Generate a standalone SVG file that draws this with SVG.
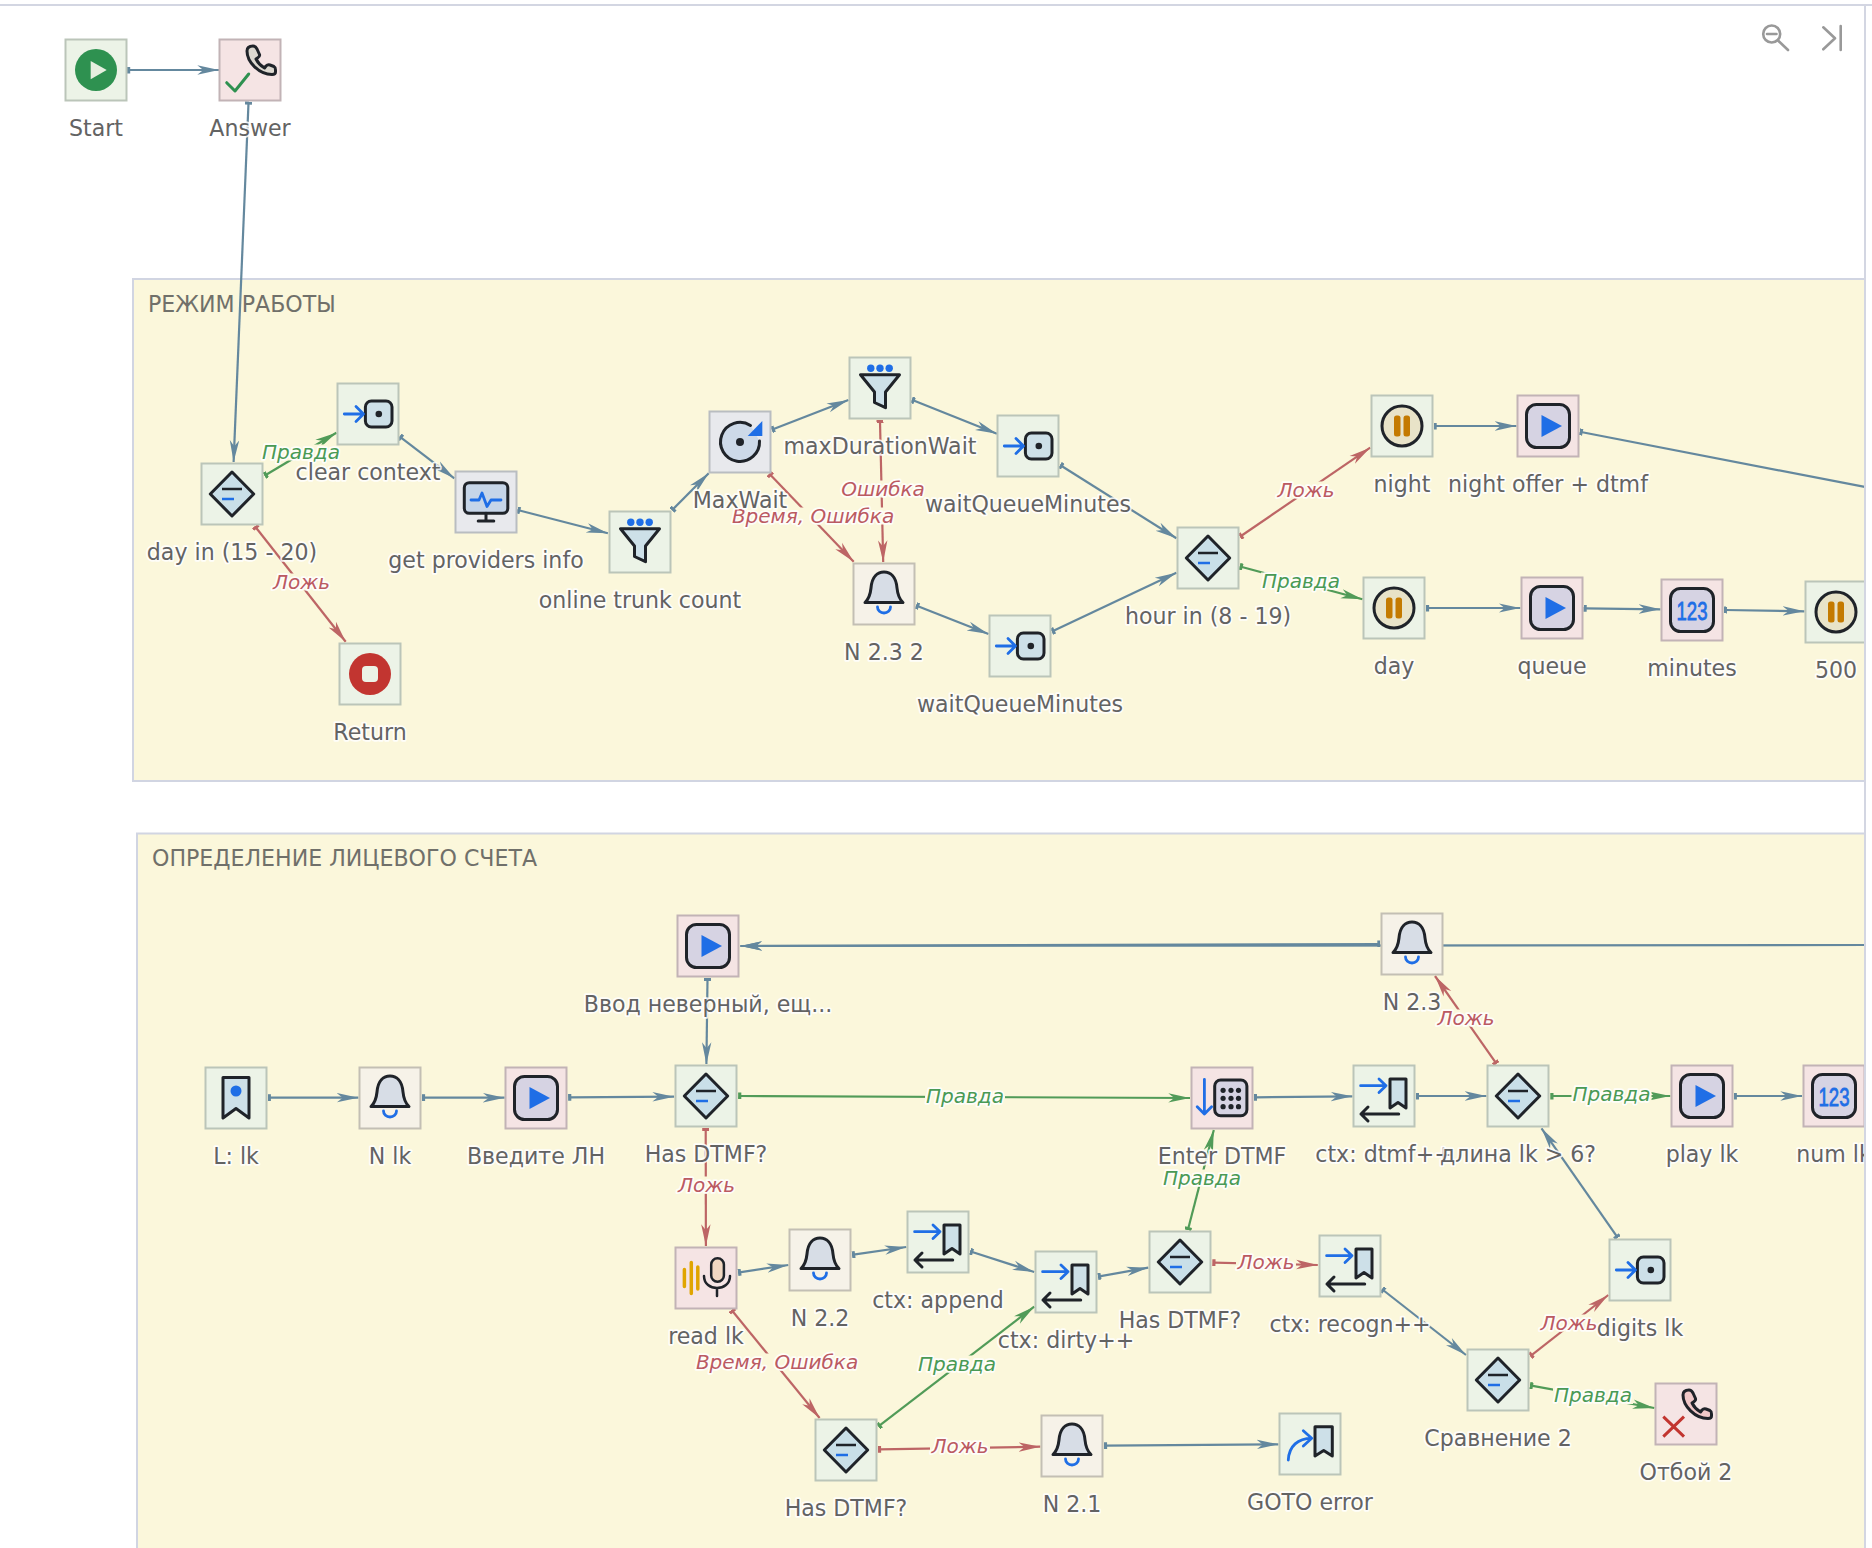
<svg xmlns="http://www.w3.org/2000/svg" width="1872" height="1548" viewBox="0 0 1872 1548">
<style>
text{font-family:"DejaVu Sans","Liberation Sans",sans-serif}
.box{stroke-width:2}
.g{fill:#ecf3e7;stroke:#bbc5b9}
.p{fill:#f5e4e4;stroke:#c2b3b6}
.s{fill:#e8e9ed;stroke:#b9bdc1}
.b{fill:#f6f2e8;stroke:#c3bfb4}
.nl{font-size:22.1px;fill:#636363;text-anchor:middle;paint-order:stroke;stroke:#fff;stroke-opacity:.85;stroke-width:3.5px;stroke-linejoin:round}
.el{font-size:20px;font-style:italic;text-anchor:middle;paint-order:stroke;stroke:#fff;stroke-opacity:.85;stroke-width:3.5px;stroke-linejoin:round}
.et{fill:#4a9a55}.ef{fill:#bb5a62}
.lb{fill:#fbf7db}
.grp{fill:#fbf7db;stroke:#d1d5e2;stroke-width:2}
.gt{font-size:22.1px;fill:#70706a}
.c path,.c line{fill:none;stroke-width:2.200}
.cb{stroke:#64889e;marker-start:url(#sb);marker-end:url(#ab)}
.cg{stroke:#519b58;marker-start:url(#sg);marker-end:url(#ag)}
.cr{stroke:#bd6565;marker-start:url(#sr);marker-end:url(#ar)}
.k{stroke:#1f2329;stroke-width:3;stroke-linejoin:round;stroke-linecap:round}
.bl{stroke:#1f6ee6;stroke-width:2.800;fill:none;stroke-linecap:round;stroke-linejoin:round}
.ui{stroke:#999;stroke-width:2.600;fill:none;stroke-linecap:round;stroke-linejoin:round}
.num{font-size:25px;fill:#1f6ee6;stroke:#1f6ee6;stroke-width:.8px;text-anchor:middle;font-family:"Liberation Sans",sans-serif}
</style>
<defs>
<marker id="ab" markerUnits="userSpaceOnUse" markerWidth="24" markerHeight="12" refX="21.7" refY="6" orient="auto"><path d="M0,1.300L21.700,6L0,10.700L6,6Z" fill="#64889e"/></marker>
<marker id="ag" markerUnits="userSpaceOnUse" markerWidth="24" markerHeight="12" refX="21.7" refY="6" orient="auto"><path d="M0,1.300L21.700,6L0,10.700L6,6Z" fill="#519b58"/></marker>
<marker id="ar" markerUnits="userSpaceOnUse" markerWidth="24" markerHeight="12" refX="21.7" refY="6" orient="auto"><path d="M0,1.300L21.700,6L0,10.700L6,6Z" fill="#bd6565"/></marker>
<marker id="sb" markerUnits="userSpaceOnUse" markerWidth="4" markerHeight="7" refX="1.5" refY="3.5" orient="auto"><rect width="3.200" height="7" fill="#64889e"/></marker>
<marker id="sg" markerUnits="userSpaceOnUse" markerWidth="4" markerHeight="7" refX="1.5" refY="3.5" orient="auto"><rect width="3.200" height="7" fill="#519b58"/></marker>
<marker id="sr" markerUnits="userSpaceOnUse" markerWidth="4" markerHeight="7" refX="1.5" refY="3.5" orient="auto"><rect width="3.200" height="7" fill="#bd6565"/></marker>
<g id="i-start"><circle r="21" fill="#2e9150"/><path d="M-5.300,-9L10.700,0L-5.300,9.300Z" fill="#e6efdf"/></g>
<g id="i-stop"><circle r="21" fill="#c23530"/><rect x="-8" y="-8" width="16" height="16" rx="4" fill="#ecf3e7"/></g>
<path id="i-phonepath" d="M-3,-19C-3,-23 0,-24 3,-24C5,-24 6,-23 7,-21L9.500,-15.500C10,-14 9,-13 7.500,-12L6,-11C8,-7 11,-4 14.500,-2L16,-4C17,-5 18,-5.500 20,-5L24,-3.500C25,-3 25.500,-2 25.500,0V2C25.500,3.500 24,4.500 22,4.500C9,4.500 -3,-8 -3,-19Z"/>
<g id="i-cond"><path class="k" d="M0,-22L21.700,0L0,22L-21.700,0Z" fill="#c9dfe8"/><path d="M-10,-5H10" stroke="#1f2329" stroke-width="2.500"/><path d="M-10,5H2" stroke="#1f6ee6" stroke-width="2.500"/></g>
<g id="i-enter"><rect class="k" x="-2.600" y="-13" width="26.600" height="26" rx="6" fill="#cde0e8"/><circle cx="10.800" r="3.300" fill="#1f2329"/><path class="bl" d="M-23.700,0H-5M-12,-7.500L-4.500,0L-12,7.500"/></g>
<g id="i-filter"><circle cx="-9.200" cy="-19.700" r="3.700" fill="#1f6ee6"/><circle cy="-19.700" r="3.700" fill="#1f6ee6"/><circle cx="9.200" cy="-19.700" r="3.700" fill="#1f6ee6"/><path class="k" d="M-19.500,-13.300H19.500L5.500,4V19.700L-5.500,14.500V4Z" fill="#cde0e8"/></g>
<g id="i-mon"><rect class="k" x="-21.700" y="-19.300" width="43.500" height="30.600" rx="5" fill="#c6d5e8"/><path class="k" d="M0,11.300V19M-7.800,19H7.800" fill="none"/><path class="bl" d="M-15,-2H-7L-4,-9L1,4.500L5,-2H15"/></g>
<g id="i-wait"><path class="k" d="M10.500,-16.500A19.500,19.500 0 1 0 19.500,-1" fill="#cdd9e8"/><circle r="4" fill="#1f2329"/><path d="M22.300,-21V-6H7.700Z" fill="#1f6ee6"/></g>
<g id="i-bell"><path class="k" d="M-19,8.500Q-14,4 -13,-6C-12,-18 -6,-22 0,-22C6,-22 12,-18 13,-6Q14,4 19,8.500Z" fill="#d7dde6"/><path class="bl" d="M-6.500,13A6.500,6 0 0 0 6.500,13"/></g>
<g id="i-pause"><circle class="k" r="20" fill="#e8e3c8"/><rect x="-8" y="-10.500" width="6.500" height="21" rx="2.500" fill="#c47a00"/><rect x="1.500" y="-10.500" width="6.500" height="21" rx="2.500" fill="#c47a00"/></g>
<g id="i-play"><rect class="k" x="-21.500" y="-21.500" width="43" height="43" rx="10" fill="#d6d3e3"/><path d="M-6.500,-11L14,0L-6.500,11Z" fill="#1f6ee6"/></g>
<g id="i-num"><rect class="k" x="-21.500" y="-21.500" width="43" height="43" rx="10" fill="#d6d3e3"/></g>
<g id="i-lab"><path class="k" d="M-13,-20.500H13V20L0,10.500L-13,20Z" fill="#cde0e8"/><circle cy="-7" r="5.500" fill="#1f6ee6"/></g>
<g id="i-ctx"><path class="k" d="M6,-17H22V12L14,6.500L6,12Z" fill="#cde0e8"/><path class="bl" d="M-23.400,-10.300H2M-5,-17L2,-10.300L-5,-3.500"/><path class="k" fill="none" d="M-23,18H14.700M-16,11L-23,18L-16,25"/></g>
<g id="i-goto"><path class="k" d="M5,-17.300H22.300V12L13.700,6.500L5,12Z" fill="#cde0e8"/><path class="bl" d="M-21.700,16C-21,2 -12,-5.700 1.700,-5.700M-6.700,-13.300L1.700,-5.700L-6.700,2"/></g>
<g id="i-dtmf"><path class="bl" d="M-17.600,-18.700V16M-24.800,8.700L-17.600,16L-10.400,8.700"/><rect class="k" x="-7.300" y="-18" width="32.200" height="35.700" rx="6" fill="#d6d3e3"/><g fill="#1f2329"><circle cx="1.100" cy="-7.700" r="2.600"/><circle cx="9" cy="-7.700" r="2.600"/><circle cx="16.500" cy="-7.700" r="2.600"/><circle cx="1.100" cy="0.300" r="2.600"/><circle cx="9" cy="0.300" r="2.600"/><circle cx="16.500" cy="0.300" r="2.600"/><circle cx="1.100" cy="8.700" r="2.600"/><circle cx="9" cy="8.700" r="2.600"/><circle cx="16.500" cy="8.700" r="2.600"/></g></g>
<g id="i-mic"><g stroke="#e0a500" stroke-width="3.500" stroke-linecap="round"><path d="M-21.600,-8.500V8.500M-14.700,-15.500V15.500M-8.200,-11V11"/></g><rect class="k" style="stroke-width:2.500" x="5.200" y="-19.700" width="12.700" height="23.400" rx="6.300" fill="#f2d8c2"/><path class="k" style="stroke-width:2.500" fill="none" d="M-2,-2C-2,14 24,14 24,-2M11,10V18"/></g>
</defs>

<rect width="1872" height="1548" fill="#fff"/>
<rect id="group-mode" class="grp" x="133" y="279" width="1760" height="502"/>
<text class="gt" x="148" y="312">РЕЖИМ РАБОТЫ</text>
<rect id="group-account" class="grp" x="137" y="833.500" width="1760" height="760"/>
<text class="gt" x="152" y="866">ОПРЕДЕЛЕНИЕ ЛИЦЕВОГО СЧЕТА</text>

<g id="connectors" class="c">
<line class="cb" x1="128.500" y1="70" x2="219" y2="70"/>
<line class="cb" x1="248.500" y1="103" x2="233.600" y2="462"/>
<line class="cg" x1="265.700" y1="475" x2="336.400" y2="432.700"/>
<line class="cb" x1="400.700" y1="437.300" x2="454.300" y2="478.300"/>
<line class="cb" x1="518.600" y1="510.300" x2="607.900" y2="533.300"/>
<line class="cb" x1="672.900" y1="509.300" x2="708.700" y2="473.300"/>
<line class="cr" x1="255.700" y1="527.300" x2="345.700" y2="641.700"/>
<line class="cb" x1="773" y1="429.300" x2="848.400" y2="400"/>
<line class="cb" x1="913" y1="400.300" x2="996.900" y2="433.700"/>
<line class="cr" x1="880" y1="421.300" x2="883.200" y2="562"/>
<line class="cr" x1="770.300" y1="474.700" x2="853.700" y2="561.700"/>
<line class="cb" x1="917.300" y1="606" x2="988.500" y2="634"/>
<line class="cb" x1="1061.200" y1="465.700" x2="1176.400" y2="538.300"/>
<line class="cb" x1="1053" y1="631" x2="1176.400" y2="572.700"/>
<line class="cr" x1="1241" y1="536" x2="1370.200" y2="447.700"/>
<line class="cg" x1="1241" y1="566.700" x2="1362.500" y2="599.300"/>
<line class="cb" x1="1435" y1="426" x2="1516.400" y2="426"/>
<line class="cb" x1="1581" y1="432" x2="1866" y2="487.200" style="marker-end:none"/>
<line class="cb" x1="1427.400" y1="608" x2="1520.300" y2="608"/>
<line class="cb" x1="1585" y1="608.300" x2="1660.400" y2="609.300"/>
<line class="cb" x1="1725.300" y1="610" x2="1804.400" y2="611.300"/>
<line class="cb" x1="269.200" y1="1097.700" x2="358.400" y2="1097.700"/>
<line class="cb" x1="423.400" y1="1097.700" x2="504.600" y2="1097.700"/>
<line class="cb" x1="569.600" y1="1097.300" x2="674.100" y2="1096.700"/>
<line class="cg" x1="739.600" y1="1096" x2="1190" y2="1098"/>
<line class="cb" x1="707.500" y1="979.300" x2="706.400" y2="1064"/>
<line class="cb" x1="1379" y1="944" x2="740.400" y2="946"/>
<line class="cb" x1="1866" y1="945" x2="740.400" y2="946" style="marker-start:none"/>
<line class="cr" x1="705.700" y1="1129.300" x2="705.900" y2="1246"/>
<line class="cb" x1="739.400" y1="1272.300" x2="788.400" y2="1265"/>
<line class="cb" x1="853.400" y1="1254.700" x2="906.300" y2="1247"/>
<line class="cb" x1="971.400" y1="1251.700" x2="1034.200" y2="1272"/>
<line class="cb" x1="1099.300" y1="1276.300" x2="1148.300" y2="1267.700"/>
<line class="cr" x1="1213.800" y1="1262.700" x2="1317.800" y2="1265"/>
<line class="cg" x1="1188.200" y1="1228.700" x2="1213.800" y2="1130"/>
<line class="cr" x1="732.400" y1="1311" x2="819.600" y2="1418"/>
<line class="cg" x1="879.400" y1="1425.700" x2="1034.200" y2="1306.700"/>
<line class="cr" x1="879.400" y1="1449.300" x2="1040.300" y2="1446.700"/>
<line class="cb" x1="1105.400" y1="1445.700" x2="1278.400" y2="1444.300"/>
<line class="cb" x1="1255.300" y1="1097.300" x2="1352.400" y2="1096.300"/>
<line class="cb" x1="1417.300" y1="1096" x2="1486.400" y2="1096"/>
<line class="cr" x1="1495.700" y1="1062.700" x2="1435" y2="976"/>
<line class="cg" x1="1551.800" y1="1096" x2="1670.300" y2="1096"/>
<line class="cb" x1="1735.200" y1="1096" x2="1802" y2="1096"/>
<line class="cb" x1="1617" y1="1236.700" x2="1541.500" y2="1128.300"/>
<line class="cb" x1="1383" y1="1290" x2="1466" y2="1355"/>
<line class="cr" x1="1531.300" y1="1355.300" x2="1608.300" y2="1295"/>
<line class="cg" x1="1531.300" y1="1385.700" x2="1654.300" y2="1408"/>

<g transform="translate(301,452)"><rect class="lb" x="-40" y="-7.500" width="80" height="16"/><text class="el et" y="6.500">Правда</text></g>
<g transform="translate(301.500,582)"><rect class="lb" x="-30" y="-8.500" width="60" height="17"/><text class="el ef" y="6.500">Ложь</text></g>
<g transform="translate(883,489)"><rect class="lb" x="-42" y="-8.500" width="84" height="17"/><text class="el ef" y="6.500">Ошибка</text></g>
<g transform="translate(813,516)"><rect class="lb" x="-82" y="-8.500" width="164" height="17"/><text class="el ef" y="6.500">Время, Ошибка</text></g>
<g transform="translate(1306,490)"><rect class="lb" x="-30" y="-8.500" width="60" height="17"/><text class="el ef" y="6.500">Ложь</text></g>
<g transform="translate(1301,581)"><rect class="lb" x="-40" y="-8.500" width="80" height="17"/><text class="el et" y="6.500">Правда</text></g>
<g transform="translate(965,1096)"><rect class="lb" x="-40" y="-8.500" width="80" height="17"/><text class="el et" y="6.500">Правда</text></g>
<g transform="translate(706.500,1185)"><rect class="lb" x="-30" y="-8.500" width="60" height="17"/><text class="el ef" y="6.500">Ложь</text></g>
<g transform="translate(1266,1262)"><rect class="lb" x="-30" y="-8.500" width="60" height="17"/><text class="el ef" y="6.500">Ложь</text></g>
<g transform="translate(1202,1178)"><rect class="lb" x="-40" y="-8.500" width="80" height="17"/><text class="el et" y="6.500">Правда</text></g>
<g transform="translate(777,1362)"><rect class="lb" x="-82" y="-8.500" width="164" height="17"/><text class="el ef" y="6.500">Время, Ошибка</text></g>
<g transform="translate(957,1364)"><rect class="lb" x="-40" y="-8.500" width="80" height="17"/><text class="el et" y="6.500">Правда</text></g>
<g transform="translate(960,1446)"><rect class="lb" x="-30" y="-8.500" width="60" height="17"/><text class="el ef" y="6.500">Ложь</text></g>
<g transform="translate(1466,1018)"><rect class="lb" x="-30" y="-8.500" width="60" height="17"/><text class="el ef" y="6.500">Ложь</text></g>
<g transform="translate(1611.500,1094)"><rect class="lb" x="-40" y="-8.500" width="80" height="17"/><text class="el et" y="6.500">Правда</text></g>
<g transform="translate(1569,1323)"><rect class="lb" x="-30" y="-8.500" width="60" height="17"/><text class="el ef" y="6.500">Ложь</text></g>
<g transform="translate(1593,1395.500)"><rect class="lb" x="-40" y="-8.500" width="80" height="17"/><text class="el et" y="6.500">Правда</text></g>
</g>

<g id="n-start" transform="translate(96,70)"><rect class="box g" x="-30.500" y="-30.500" width="61" height="61"/><use href="#i-start"/><text class="nl" y="66">Start</text></g>
<g id="n-answer" transform="translate(250,70)"><rect class="box p" x="-30.500" y="-30.500" width="61" height="61"/><use href="#i-phonepath" class="k" fill="#dcd8d0"/><path d="M-23.300,12.700L-15,21L-1.300,4" fill="none" stroke="#2e9150" stroke-width="3" stroke-linecap="round" stroke-linejoin="round"/><text class="nl" y="66">Answer</text></g>
<g id="n-dayin" transform="translate(232,494)"><rect class="box g" x="-30.500" y="-30.500" width="61" height="61"/><use href="#i-cond"/><text class="nl" y="66">day in (15 - 20)</text></g>
<g id="n-clear" transform="translate(368,414)"><rect class="box g" x="-30.500" y="-30.500" width="61" height="61"/><use href="#i-enter"/><text class="nl" y="66">clear context</text></g>
<g id="n-providers" transform="translate(486,502)"><rect class="box s" x="-30.500" y="-30.500" width="61" height="61"/><use href="#i-mon"/><text class="nl" y="66">get providers info</text></g>
<g id="n-trunk" transform="translate(640,542)"><rect class="box g" x="-30.500" y="-30.500" width="61" height="61"/><use href="#i-filter"/><text class="nl" y="66">online trunk count</text></g>
<g id="n-return" transform="translate(370,674)"><rect class="box g" x="-30.500" y="-30.500" width="61" height="61"/><use href="#i-stop"/><text class="nl" y="66">Return</text></g>
<g id="n-maxwait" transform="translate(740,442)"><rect class="box s" x="-30.500" y="-30.500" width="61" height="61"/><use href="#i-wait"/><text class="nl" y="66">MaxWait</text></g>
<g id="n-maxdur" transform="translate(880,388)"><rect class="box g" x="-30.500" y="-30.500" width="61" height="61"/><use href="#i-filter"/><text class="nl" y="66">maxDurationWait</text></g>
<g id="n-wq1" transform="translate(1028,446)"><rect class="box g" x="-30.500" y="-30.500" width="61" height="61"/><use href="#i-enter"/><text class="nl" y="66">waitQueueMinutes</text></g>
<g id="n-n232" transform="translate(884,594)"><rect class="box b" x="-30.500" y="-30.500" width="61" height="61"/><use href="#i-bell"/><text class="nl" y="66">N 2.3 2</text></g>
<g id="n-wq2" transform="translate(1020,646)"><rect class="box g" x="-30.500" y="-30.500" width="61" height="61"/><use href="#i-enter"/><text class="nl" y="66">waitQueueMinutes</text></g>
<g id="n-hour" transform="translate(1208,558)"><rect class="box g" x="-30.500" y="-30.500" width="61" height="61"/><use href="#i-cond"/><text class="nl" y="66">hour in (8 - 19)</text></g>
<g id="n-night" transform="translate(1402,426)"><rect class="box g" x="-30.500" y="-30.500" width="61" height="61"/><use href="#i-pause"/><text class="nl" y="66">night</text></g>
<g id="n-nightoffer" transform="translate(1548,426)"><rect class="box p" x="-30.500" y="-30.500" width="61" height="61"/><use href="#i-play"/><text class="nl" y="66">night offer + dtmf</text></g>
<g id="n-day" transform="translate(1394,608)"><rect class="box g" x="-30.500" y="-30.500" width="61" height="61"/><use href="#i-pause"/><text class="nl" y="66">day</text></g>
<g id="n-queue" transform="translate(1552,608)"><rect class="box p" x="-30.500" y="-30.500" width="61" height="61"/><use href="#i-play"/><text class="nl" y="66">queue</text></g>
<g id="n-minutes" transform="translate(1692,610)"><rect class="box p" x="-30.500" y="-30.500" width="61" height="61"/><use href="#i-num"/><text class="num" y="9.500" textLength="31" lengthAdjust="spacingAndGlyphs">123</text><text class="nl" y="66">minutes</text></g>
<g id="n-500" transform="translate(1836,612)"><rect class="box g" x="-30.500" y="-30.500" width="61" height="61"/><use href="#i-pause"/><text class="nl" y="66">500</text></g>

<g id="n-wrong" transform="translate(708,946)"><rect class="box p" x="-30.500" y="-30.500" width="61" height="61"/><use href="#i-play"/><text class="nl" y="66">Ввод неверный, ещ...</text></g>
<g id="n-n23" transform="translate(1412,944)"><rect class="box b" x="-30.500" y="-30.500" width="61" height="61"/><use href="#i-bell"/><text class="nl" y="66">N 2.3</text></g>
<g id="n-llk" transform="translate(236,1098)"><rect class="box g" x="-30.500" y="-30.500" width="61" height="61"/><use href="#i-lab"/><text class="nl" y="66">L: lk</text></g>
<g id="n-nlk" transform="translate(390,1098)"><rect class="box b" x="-30.500" y="-30.500" width="61" height="61"/><use href="#i-bell"/><text class="nl" y="66">N lk</text></g>
<g id="n-enterlh" transform="translate(536,1098)"><rect class="box p" x="-30.500" y="-30.500" width="61" height="61"/><use href="#i-play"/><text class="nl" y="66">Введите ЛН</text></g>
<g id="n-hasdtmf1" transform="translate(706,1096)"><rect class="box g" x="-30.500" y="-30.500" width="61" height="61"/><use href="#i-cond"/><text class="nl" y="66">Has DTMF?</text></g>
<g id="n-enterdtmf" transform="translate(1222,1098)"><rect class="box p" x="-30.500" y="-30.500" width="61" height="61"/><use href="#i-dtmf"/><text class="nl" y="66">Enter DTMF</text></g>
<g id="n-dtmfpp" transform="translate(1384,1096)"><rect class="box g" x="-30.500" y="-30.500" width="61" height="61"/><use href="#i-ctx"/><text class="nl" y="66">ctx: dtmf++</text></g>
<g id="n-len" transform="translate(1518,1096)"><rect class="box g" x="-30.500" y="-30.500" width="61" height="61"/><use href="#i-cond"/><text class="nl" y="66">длина lk &gt; 6?</text></g>
<g id="n-playlk" transform="translate(1702,1096)"><rect class="box p" x="-30.500" y="-30.500" width="61" height="61"/><use href="#i-play"/><text class="nl" y="66">play lk</text></g>
<g id="n-numlk" transform="translate(1834,1096)"><rect class="box p" x="-30.500" y="-30.500" width="61" height="61"/><use href="#i-num"/><text class="num" y="9.500" textLength="31" lengthAdjust="spacingAndGlyphs">123</text><text class="nl" y="66">num lk</text></g>
<g id="n-read" transform="translate(706,1278)"><rect class="box p" x="-30.500" y="-30.500" width="61" height="61"/><use href="#i-mic"/><text class="nl" y="66">read lk</text></g>
<g id="n-n22" transform="translate(820,1260)"><rect class="box b" x="-30.500" y="-30.500" width="61" height="61"/><use href="#i-bell"/><text class="nl" y="66">N 2.2</text></g>
<g id="n-append" transform="translate(938,1242)"><rect class="box g" x="-30.500" y="-30.500" width="61" height="61"/><use href="#i-ctx"/><text class="nl" y="66">ctx: append</text></g>
<g id="n-dirty" transform="translate(1066,1282)"><rect class="box g" x="-30.500" y="-30.500" width="61" height="61"/><use href="#i-ctx"/><text class="nl" y="66">ctx: dirty++</text></g>
<g id="n-hasdtmf2" transform="translate(1180,1262)"><rect class="box g" x="-30.500" y="-30.500" width="61" height="61"/><use href="#i-cond"/><text class="nl" y="66">Has DTMF?</text></g>
<g id="n-recogn" transform="translate(1350,1266)"><rect class="box g" x="-30.500" y="-30.500" width="61" height="61"/><use href="#i-ctx"/><text class="nl" y="66">ctx: recogn++</text></g>
<g id="n-digits" transform="translate(1640,1270)"><rect class="box g" x="-30.500" y="-30.500" width="61" height="61"/><use href="#i-enter"/><text class="nl" y="66">digits lk</text></g>
<g id="n-cmp2" transform="translate(1498,1380)"><rect class="box g" x="-30.500" y="-30.500" width="61" height="61"/><use href="#i-cond"/><text class="nl" y="66">Сравнение 2</text></g>
<g id="n-hang2" transform="translate(1686,1414)"><rect class="box p" x="-30.500" y="-30.500" width="61" height="61"/><use href="#i-phonepath" class="k" fill="#f0c8c8"/><path d="M-22.700,2.700L-2,22.700M-2,2.700L-22.700,22.700" fill="none" stroke="#c23530" stroke-width="3"/><text class="nl" y="66">Отбой 2</text></g>
<g id="n-hasdtmf3" transform="translate(846,1450)"><rect class="box g" x="-30.500" y="-30.500" width="61" height="61"/><use href="#i-cond"/><text class="nl" y="66">Has DTMF?</text></g>
<g id="n-n21" transform="translate(1072,1446)"><rect class="box b" x="-30.500" y="-30.500" width="61" height="61"/><use href="#i-bell"/><text class="nl" y="66">N 2.1</text></g>
<g id="n-goto" transform="translate(1310,1444)"><rect class="box g" x="-30.500" y="-30.500" width="61" height="61"/><use href="#i-goto"/><text class="nl" y="66">GOTO error</text></g>

<rect x="1866" y="0" width="6" height="1548" fill="#fff"/>
<path d="M0,5H1872M1865,5V1548" fill="none" stroke="#d3d6e2" stroke-width="2"/>
<g id="toolbar" class="ui"><circle cx="1771.700" cy="34" r="8.500"/><path d="M1767,34H1776.500M1778,40.500L1788,50M1823.300,27.300L1835,38.300L1823.300,49.300M1840.700,26V50"/></g>
</svg>
